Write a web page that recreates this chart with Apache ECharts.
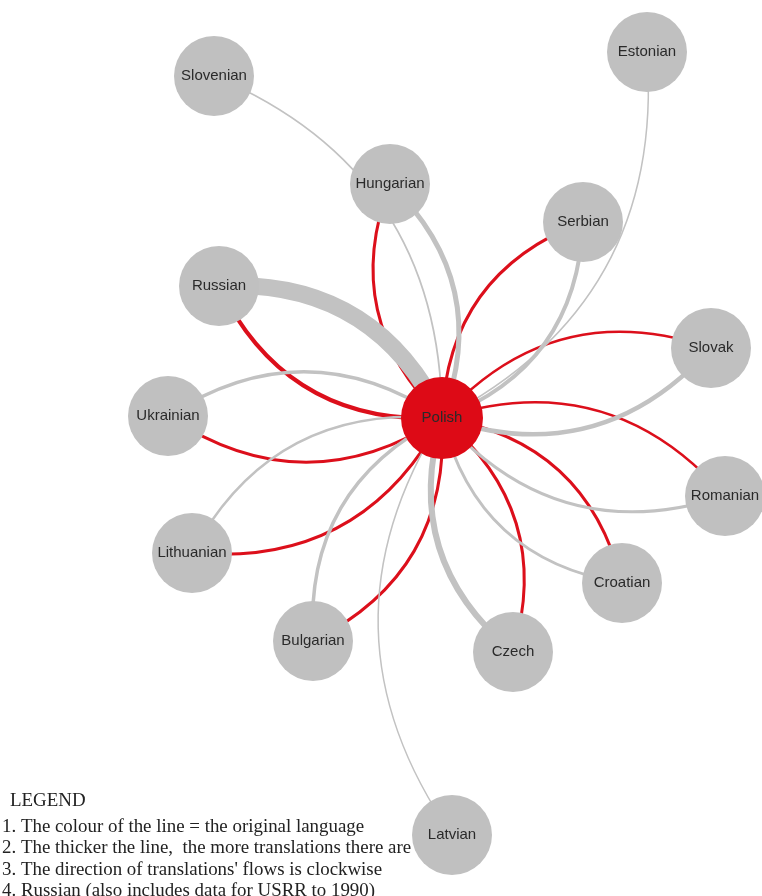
<!DOCTYPE html>
<html>
<head>
<meta charset="utf-8">
<script src="https://cdn.jsdelivr.net/npm/echarts@6/dist/echarts.min.js"></script>
<style>
  html, body { margin: 0; padding: 0; background: #fff; }
  #chart { width: 762px; height: 896px; }
</style>
</head>
<body>
<div id="chart"></div>
<script>
// languages linked to Polish
const languages = ['Slovenian', 'Estonian', 'Hungarian', 'Serbian', 'Russian', 'Slovak', 'Ukrainian',
  'Romanian', 'Lithuanian', 'Croatian', 'Bulgarian', 'Czech', 'Latvian']
// weight of translations into Polish (grey lines)
const intoPolish = [1.8, 1.5, 5, 4, 17, 4.5, 3.5, 3, 2.5, 3, 3.5, 6, 1.5]
// weight of translations from Polish (red lines), null = no line
const fromPolish = [null, null, 3, 3, 4, 2.5, 3, 2.5, 3, 3, 3, 3, null]

const legendLines = [
  'LEGEND',
  '1. The colour of the line = the original language',
  '2. The thicker the line,  the more translations there are',
  "3. The direction of translations' flows is clockwise",
  '4. Russian (also includes data for USRR to 1990)'
]

// where each circle sits on the page
const layout = {
  Polish: [442, 418],
  Slovenian: [214, 76],
  Estonian: [647, 52],
  Hungarian: [390, 184],
  Serbian: [583, 222],
  Russian: [219, 286],
  Slovak: [711, 348],
  Ukrainian: [168, 416],
  Romanian: [725, 496],
  Lithuanian: [192, 553],
  Croatian: [622, 583],
  Bulgarian: [313, 641],
  Czech: [513, 652],
  Latvian: [452, 835]
}

const RED = '#dc0f1b'
const GREY = '#c2c2c2'

let nodes = [{
  name: 'Polish',
  x: layout.Polish[0],
  y: layout.Polish[1],
  symbolSize: 82,
  itemStyle: {color: '#dd0a16'}
}]
languages.forEach(l => {
  nodes.push({name: l, x: layout[l][0], y: layout[l][1]})
})

let links = []
// red first so grey lines lie on top of them
languages.forEach((l, i) => {
  if (fromPolish[i] != null) {
    links.push({source: 'Polish', target: l, lineStyle: {color: RED, width: fromPolish[i]}})
  }
})
languages.forEach((l, i) => {
  links.push({source: l, target: 'Polish', lineStyle: {color: GREY, width: intoPolish[i]}})
})

const chart = echarts.init(document.getElementById('chart'))
const option = {
  animation: false,
  series: [{
    type: 'graph',
    layout: 'none',
    left: 168,
    top: 52,
    width: 557,
    height: 783,
    roam: false,
    symbol: 'circle',
    symbolSize: 80,
    itemStyle: {color: '#c0c0c0'},
    label: {
      show: true,
      position: 'inside',
      color: '#2a2a2a',
      fontFamily: 'Liberation Sans',
      fontSize: 15
    },
    lineStyle: {curveness: 0.33, opacity: 1},
    edgeSymbol: ['none', 'none'],
    emphasis: {disabled: true},
    data: nodes,
    links: links
  }],
  graphic: legendLines.map((t, i) => ({
    type: 'text',
    x: i === 0 ? 10 : 2,
    y: i === 0 ? 801 : 827 + (i - 1) * 21.5,
    style: {
      text: t,
      font: '18.9px "Liberation Serif"',
      fill: '#222',
      verticalAlign: 'middle'
    }
  }))
}
option && chart.setOption(option)
</script>
</body>
</html>
